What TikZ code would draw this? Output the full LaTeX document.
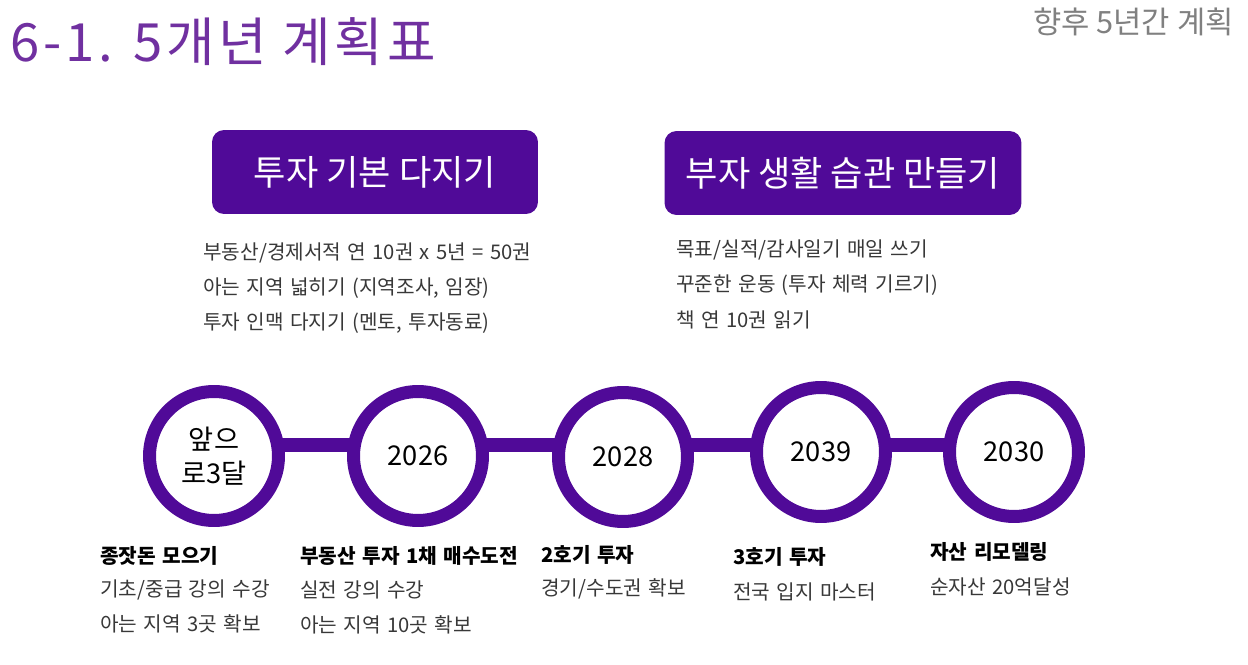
\documentclass[tikz,border=0pt]{standalone}
\usepackage{fontspec}
\setmainfont{Noto Sans CJK KR}
\newfontfamily\titlefont{Noto Sans CJK KR}[LetterSpace=7]
\newfontfamily\itemfont{Noto Sans CJK KR}[WordSpace=1.4]
\usetikzlibrary{positioning}
\definecolor{planviolet}{RGB}{80,10,152}
\definecolor{titleviolet}{RGB}{112,48,160}
\tikzset{
  goalbox/.style={rectangle, rounded corners=0.24cm, fill=planviolet, text=white, minimum height=1.68cm, font=\fontsize{20}{24}\selectfont},
  yearring/.style={circle, draw=planviolet, line width=0.26cm, fill=white, minimum size=2.58cm, inner sep=0pt, align=center, font=\fontsize{15.5}{19}\selectfont},
  bar/.style={draw=planviolet, line width=0.28cm},
  item/.style={anchor=west, inner sep=0pt, text=black!78, font=\itemfont\fontsize{11.5}{14}\selectfont},
  head/.style={item, text=black, font=\itemfont\fontsize{11.5}{14}\selectfont\bfseries}
}

\begin{document}
\begin{tikzpicture}[x=0.02cm, y=-0.02cm]
    \useasboundingbox (0,0) rectangle (1248,665);
    \node[anchor=west, inner sep=0pt, text=titleviolet, font=\titlefont\fontsize{30}{36}\selectfont] (title) at (10,42) {6-1. 5개년 계획표};
    \node[anchor=east, inner sep=0pt, text=black!50, font=\fontsize{17.5}{21}\selectfont] (subtitle) at (1234,22) {향후 5년간 계획};

    % two goals
    \node[goalbox, minimum width=6.52cm] (basic) at (375,172) {투자 기본 다지기};
    \node[goalbox, minimum width=7.14cm] (habit) at (843,173) {부자 생활 습관 만들기};
    \foreach \t [count=\i] in {{부동산/경제서적 연 10권 x 5년 = 50권}, {아는 지역 넓히기 (지역조사, 임장)}, {투자 인맥 다지기 (멘토, 투자동료)}}
        \node[item] (basic\i) at (203,{253+35*(\i-1)}) {\t};
    \foreach \t [count=\i] in {{목표/실적/감사일기 매일 쓰기}, {꾸준한 운동 (투자 체력 기르기)}, {책 연 10권 읽기}}
        \node[item] (habit\i) at (676,{250+35*(\i-1)}) {\t};

    % timeline
    \node[yearring] (now) at (214,456) {앞으\\로3달};
    \node[yearring] (y2026) at (418,456) {2026};
    \node[yearring] (y2028) at (623,457) {2028};
    \node[yearring] (y2039) at (821,452) {2039};
    \node[yearring] (y2030) at (1014,452) {2030};
    \foreach \a/\b in {now/y2026, y2026/y2028, y2028/y2039, y2039/y2030}
        \draw[bar, shorten <=-2pt, shorten >=-2pt] (\a.east |- 0,445) -- (\b.west |- 0,445);

    % steps
    \node[head] (nowhead) at (100,556) {종잣돈 모으기};
    \node[item] (now1) at (100,590) {기초/중급 강의 수강};
    \node[item] (now2) at (100,624) {아는 지역 3곳 확보};
    \node[head] (y2026head) at (300,556) {부동산 투자 1채 매수도전};
    \node[item] (y2026a) at (300,590) {실전 강의 수강};
    \node[item] (y2026b) at (300,625) {아는 지역 10곳 확보};
    \node[head] (y2028head) at (541,555) {2호기 투자};
    \node[item] (y2028a) at (541,589) {경기/수도권 확보};
    \node[head] (y2039head) at (733,557) {3호기 투자};
    \node[item] (y2039a) at (733,592) {전국 입지 마스터};
    \node[head] (y2030head) at (930,552) {자산 리모델링};
    \node[item] (y2030a) at (930,587) {순자산 20억달성};
\end{tikzpicture}
\end{document}
